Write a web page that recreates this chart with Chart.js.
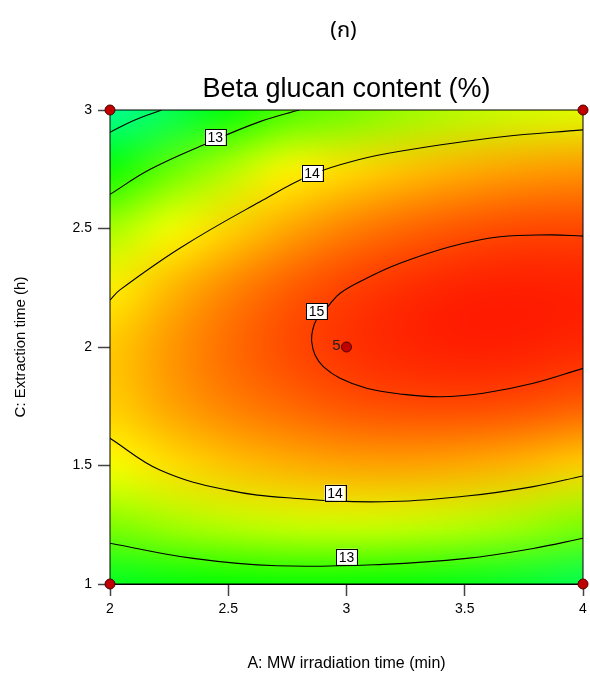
<!DOCTYPE html>
<html>
<head>
<meta charset="utf-8">
<script src="https://cdn.jsdelivr.net/npm/chart.js@4"></script>
<style>
  html, body { margin: 0; padding: 0; background: #fff; }
</style>
</head>
<body>
<canvas id="chart" width="590" height="682"></canvas>
<script>
// Factor levels of the colour grid
const timeA = [2, 2.25, 2.5, 2.75, 3, 3.25, 3.5, 3.75, 4];      // A: MW irradiation time (min)
const timeC = [1, 1.25, 1.5, 1.75, 2, 2.25, 2.5, 2.75, 3];      // C: Extraction time (h)

// Beta glucan (%), one row per C level (C = 1 first)
const glucanGrid = [
    [12.37, 12.51, 12.60, 12.63, 12.62, 12.56, 12.44, 12.28, 12.06],
    [13.23, 13.41, 13.53, 13.61, 13.64, 13.61, 13.53, 13.41, 13.23],
    [13.82, 14.03, 14.20, 14.31, 14.38, 14.39, 14.35, 14.26, 14.12],
    [14.13, 14.39, 14.59, 14.74, 14.86, 14.92, 14.93, 14.89, 14.80],
    [14.17, 14.46, 14.72, 14.92, 15.06, 15.14, 15.18, 15.17, 15.12],
    [13.93, 14.26, 14.56, 14.80, 14.98, 15.09, 15.16, 15.18, 15.16],
    [13.42, 13.79, 14.10, 14.37, 14.59, 14.75, 14.86, 14.93, 14.94],
    [12.63, 13.08, 13.48, 13.90, 14.05, 14.20, 14.32, 14.41, 14.46],
    [11.57, 12.01, 12.55, 12.95, 13.15, 13.35, 13.50, 13.62, 13.70]
];

// Contour lines, [A, C] pairs
const contour12 = [[2.0, 2.906], [2.1, 2.956], [2.218, 3.0]];
const contour13Top = [[2.0, 2.644], [2.17, 2.75], [2.409, 2.859], [2.634, 2.951], [2.8, 3.0]];
const contour14Top = [[2.0, 2.198], [2.042, 2.241], [2.3, 2.42], [2.634, 2.613], [2.854, 2.728],
                      [3.05, 2.79], [3.226, 2.826], [3.649, 2.886], [4.0, 2.916]];
const contour15 = [[4.0, 2.468], [3.86, 2.473], [3.649, 2.465], [3.438, 2.423], [3.226, 2.353],
                   [3.085, 2.29], [2.973, 2.227], [2.919, 2.168], [2.874, 2.117], [2.857, 2.072],
                   [2.853, 2.022], [2.867, 1.966], [2.902, 1.917], [2.973, 1.868], [3.085, 1.826],
                   [3.226, 1.802], [3.395, 1.79], [3.578, 1.805], [3.79, 1.847], [4.0, 1.91]];
const contour14Bot = [[2.0, 1.615], [2.211, 1.481], [2.493, 1.397], [2.775, 1.362], [3.156, 1.347],
                      [3.508, 1.371], [3.79, 1.411], [4.0, 1.456]];
const contour13Bot = [[2.0, 1.172], [2.352, 1.108], [2.705, 1.077], [3.156, 1.083], [3.508, 1.108],
                      [3.79, 1.15], [4.0, 1.193]];

// Contour labels
const labelText = ['13', '14', '15', '14', '13'];
const labelA = [2.445, 2.854, 2.873, 2.951, 3.0];
const labelC = [2.885, 2.733, 2.151, 1.385, 1.115];

// Design points (corners + centre point with 5 replicates)
const designA = [2, 4, 2, 4, 3];
const designC = [1, 1, 3, 3, 2];
const centreRuns = '5';

// Axis ticks
const xTicks = [2, 2.5, 3, 3.5, 4];
const yTicks = [1, 1.5, 2, 2.5, 3];

const FONT = "'Liberation Sans', Arial, sans-serif";

// colour ramp used by the contour plot
const ramp = [
    [10.9, [0, 255, 255]],
    [12.6, [0, 255, 0]],
    [13.85, [255, 255, 0]],
    [15.35, [255, 0, 0]]
];

function colourFor(v) {
    if (v <= ramp[0][0]) return ramp[0][1];
    for (let i = 1; i < ramp.length; i++) {
        if (v <= ramp[i][0]) {
            const t = (v - ramp[i - 1][0]) / (ramp[i][0] - ramp[i - 1][0]);
            const a = ramp[i - 1][1], b = ramp[i][1];
            return a.map((c, k) => Math.round(c + (b[k] - c) * t));
        }
    }
    return ramp[ramp.length - 1][1];
}

const toPoints = pairs => pairs.map(p => ({ x: p[0], y: p[1] }));

// Colour map behind the contours
const heatmapPlugin = {
    id: 'heatmap',
    beforeDatasetsDraw(chart) {
        const { ctx, chartArea, scales: { x, y } } = chart;
        const nx = timeA.length, ny = timeC.length;
        const off = document.createElement('canvas');
        off.width = nx;
        off.height = ny;
        const octx = off.getContext('2d');
        const img = octx.createImageData(nx, ny);
        glucanGrid.forEach((row, j) => {
            row.forEach((v, i) => {
                const rgb = colourFor(v);
                const k = ((ny - 1 - j) * nx + i) * 4;
                img.data[k] = rgb[0];
                img.data[k + 1] = rgb[1];
                img.data[k + 2] = rgb[2];
                img.data[k + 3] = 255;
            });
        });
        octx.putImageData(img, 0, 0);

        const hA = (timeA[1] - timeA[0]) / 2, hC = (timeC[1] - timeC[0]) / 2;
        const left = x.getPixelForValue(timeA[0] - hA);
        const right = x.getPixelForValue(timeA[nx - 1] + hA);
        const top = y.getPixelForValue(timeC[ny - 1] + hC);
        const bottom = y.getPixelForValue(timeC[0] - hC);

        ctx.save();
        ctx.beginPath();
        ctx.rect(chartArea.left, chartArea.top, chartArea.width, chartArea.height);
        ctx.clip();
        ctx.imageSmoothingEnabled = true;
        ctx.imageSmoothingQuality = 'high';
        ctx.drawImage(off, left, top, right - left, bottom - top);
        ctx.restore();

        ctx.save();
        ctx.strokeStyle = '#000';
        ctx.lineWidth = 1;
        ctx.strokeRect(chartArea.left, chartArea.top, chartArea.width, chartArea.height);
        ctx.restore();
    }
};

// Boxed contour labels, centre-point count and the titles
const labelsPlugin = {
    id: 'labels',
    afterDatasetsDraw(chart) {
        const { ctx, scales: { x, y } } = chart;
        ctx.save();
        ctx.font = '14px ' + FONT;
        ctx.textAlign = 'center';
        ctx.textBaseline = 'middle';
        labelText.forEach((t, i) => {
            const px = x.getPixelForValue(labelA[i]);
            const py = y.getPixelForValue(labelC[i]);
            const w = ctx.measureText(t).width + 5;
            const h = 16;
            ctx.fillStyle = '#fff';
            ctx.fillRect(px - w / 2, py - h / 2, w, h);
            ctx.strokeStyle = '#000';
            ctx.lineWidth = 1;
            ctx.strokeRect(Math.round(px - w / 2) + 0.5, Math.round(py - h / 2) + 0.5, Math.round(w), h);
            ctx.fillStyle = '#000';
            ctx.fillText(t, px, py + 1);
        });

        ctx.font = '15px ' + FONT;
        ctx.textAlign = 'right';
        ctx.fillStyle = '#222';
        ctx.fillText(centreRuns, x.getPixelForValue(designA[4]) - 6, y.getPixelForValue(designC[4]) - 1);
        ctx.restore();
    },
    afterDraw(chart) {
        const { ctx, chartArea } = chart;
        const cx = (chartArea.left + chartArea.right) / 2;
        ctx.save();
        ctx.fillStyle = '#000';
        ctx.textAlign = 'center';
        ctx.textBaseline = 'middle';
        ctx.font = "22px 'Noto Sans Thai', 'Loma', 'Garuda', 'Tahoma', 'DejaVu Sans', sans-serif";
        ctx.fillText('(ก)', cx - 3, 33);
        ctx.font = '27px ' + FONT;
        ctx.fillText('Beta glucan content (%)', cx, 90);
        ctx.restore();
    }
};

const contourStyle = {
    showLine: true,
    borderColor: '#000',
    borderWidth: 1.1,
    pointRadius: 0,
    tension: 0.4,
    fill: false
};

new Chart(document.getElementById('chart'), {
    type: 'scatter',
    data: {
        datasets: [
            {
                label: 'Design points',
                data: designA.map((a, i) => ({ x: a, y: designC[i] })),
                pointRadius: 5,
                pointBackgroundColor: '#c00000',
                pointBorderColor: '#4a0000',
                pointBorderWidth: 1,
                showLine: false,
                clip: false
            },
            { ...contourStyle, label: '12', data: toPoints(contour12) },
            { ...contourStyle, label: '13', data: toPoints(contour13Top) },
            { ...contourStyle, label: '14', data: toPoints(contour14Top) },
            { ...contourStyle, label: '15', data: toPoints(contour15) },
            { ...contourStyle, label: '14', data: toPoints(contour14Bot) },
            { ...contourStyle, label: '13', data: toPoints(contour13Bot) }
        ]
    },
    options: {
        responsive: false,
        devicePixelRatio: 1,
        animation: false,
        events: [],
        layout: { padding: { top: 110, right: 7, left: 0, bottom: 0 } },
        plugins: {
            legend: { display: false },
            tooltip: { enabled: false }
        },
        scales: {
            x: {
                type: 'linear',
                min: 2,
                max: 4,
                afterBuildTicks: s => { s.ticks = xTicks.map(v => ({ value: v })); },
                afterFit: s => { s.height = 98; s.paddingRight = 0; },
                ticks: { color: '#000', font: { family: FONT, size: 14 }, padding: 5, callback: v => String(v) },
                grid: { drawOnChartArea: false, drawTicks: true, tickLength: 12, tickColor: '#444', tickWidth: 1.5 },
                border: { display: true, color: '#000', width: 1 },
                title: {
                    display: true,
                    text: 'A: MW irradiation time (min)',
                    color: '#000',
                    font: { family: FONT, size: 16 },
                    padding: { top: 0, bottom: 9 }
                }
            },
            y: {
                type: 'linear',
                min: 1,
                max: 3,
                afterBuildTicks: s => { s.ticks = yTicks.map(v => ({ value: v })); },
                afterFit: s => { s.width = 110; },
                ticks: { color: '#000', font: { family: FONT, size: 14 }, padding: 6, callback: v => String(v) },
                grid: { drawOnChartArea: false, drawTicks: true, tickLength: 12, tickColor: '#444', tickWidth: 1.5 },
                border: { display: true, color: '#000', width: 1 },
                title: {
                    display: true,
                    text: 'C: Extraction time (h)',
                    color: '#000',
                    font: { family: FONT, size: 15 },
                    padding: { top: 12, bottom: 0 }
                }
            }
        }
    },
    plugins: [heatmapPlugin, labelsPlugin]
});
</script>
</body>
</html>
